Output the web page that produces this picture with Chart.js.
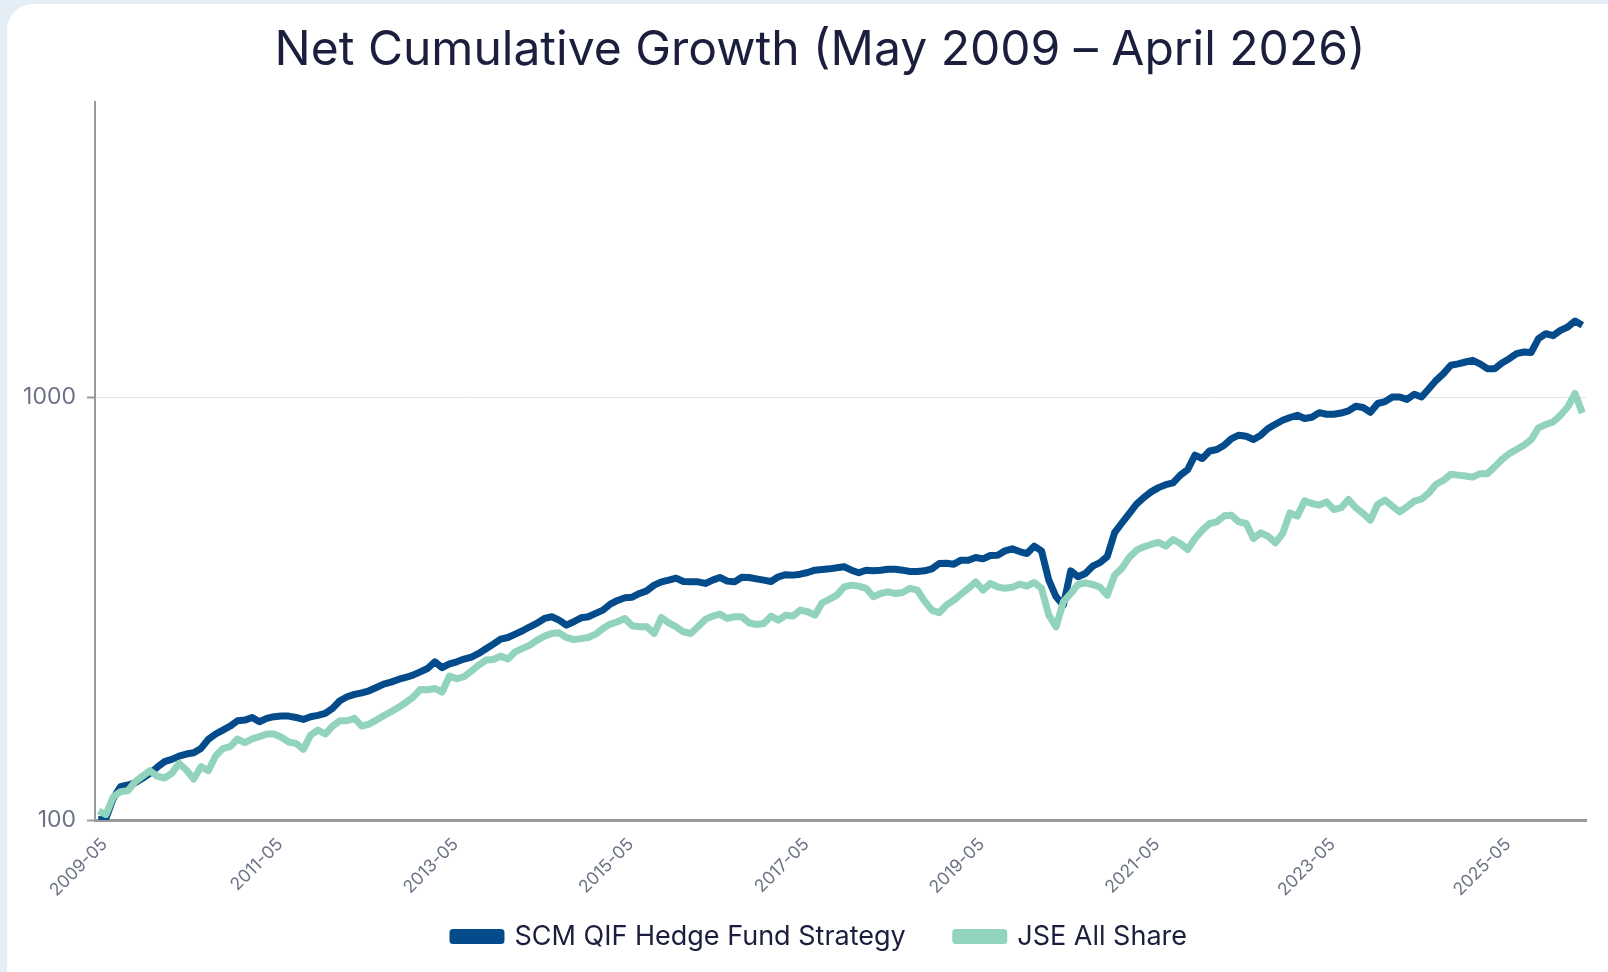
<!DOCTYPE html>
<html lang="en">
<head>
    <meta charset="UTF-8">
    <title>Net Cumulative Growth (May 2009 – April 2026)</title>
    <script src="https://cdn.jsdelivr.net/npm/chart.js"></script>
    <style>
        html, body {
            margin: 0;
            padding: 0;
            width: 1608px;
            height: 972px;
            overflow: hidden;
            background-color: #e4eef7;
            font-family: Inter, sans-serif;
        }
        #card {
            position: absolute;
            left: 7px;
            top: 4px;
            width: 1660px;
            height: 1020px;
            background-color: #ffffff;
            border-radius: 26px;
        }
        #chartBox {
            position: absolute;
            left: 0;
            top: 0;
            width: 1608px;
            height: 960px;
        }
    </style>
</head>
<body>
<div id="card"></div>
<div id="chartBox">
    <canvas id="growthChart"></canvas>
</div>
<script>
    // monthly index values, May 2009 .. April 2026 (204 months)
    const scmFund = [
        100, 101, 112.5, 119.9, 121, 122.5, 125.5, 128.9, 133.2, 137.4, 139.1, 141.6,
        143.2, 144.2, 147.7, 155.1, 159.7, 163.2, 166.8, 171.7, 172.3, 174.8, 170.8, 173.9,
        175.5, 176.1, 176.1, 174.8, 172.9, 175.5, 176.8, 178.7, 183.6, 191.4, 195.6, 198.2,
        199.9, 202.1, 205.8, 209.6, 211.9, 215, 217.3, 220.1, 224.1, 228.2, 236.7, 229.2,
        234, 236.7, 240.2, 242.8, 247.7, 254, 260.6, 267.8, 270.2, 275.1, 280.2, 286.4,
        292.1, 299.7, 302.4, 296.9, 289, 294.3, 300.7, 302.4, 308, 313.6, 324, 330.5,
        335.3, 336.5, 343.3, 348.3, 359.3, 365.8, 369.2, 373.2, 366.5, 365.8, 365.8, 362.6,
        369.2, 374.6, 367.2, 365.8, 375.2, 374.6, 371.8, 369.2, 366.5, 376, 380.4, 379.4,
        381.4, 384.9, 389.8, 391.2, 392.6, 394.8, 397, 389.8, 384.2, 389.8, 388.4, 389.8,
        391.9, 391.9, 389.8, 387, 387, 388.4, 392.6, 404.2, 404.9, 402.7, 411.6, 411.6,
        417.6, 414.6, 422.2, 422.9, 433, 437.8, 431.5, 426.8, 444.2, 433, 369.2, 337.2,
        322.2, 388.4, 376, 382.8, 398.4, 406, 420, 478, 504, 530.6, 558.3, 579,
        597, 611, 621, 627, 654, 674, 729, 716, 746, 752, 770, 798,
        813, 808, 794, 813, 843, 863, 882, 895, 906, 890, 896, 919,
        911, 911, 917, 928, 952, 945, 921, 966, 976, 1001, 1001, 988,
        1016, 1001, 1047, 1096, 1137, 1190, 1199, 1211, 1222, 1199, 1168, 1168,
        1205, 1233, 1268, 1279, 1276, 1375, 1413, 1398, 1439, 1465, 1514, 1479
    ];
    const jseAllShare = [
        105, 103, 113.5, 116.7, 117.3, 123.2, 127, 130.8, 127, 125.7, 128.9, 136.1,
        131.3, 125, 133.7, 130.8, 141.7, 147.5, 149.1, 155.4, 152.3, 155.6, 157.4, 159.7,
        159.7, 156.9, 152.9, 151.8, 146.9, 158.8, 163.2, 159.7, 166.8, 171.7, 171.7, 173.9,
        166.8, 168.6, 172.3, 176.4, 180.3, 184.6, 189.4, 194.9, 203.6, 203.2, 204.7, 200.7,
        219, 215.8, 218.2, 225, 232.4, 238.9, 239.7, 244.1, 240.3, 249.9, 254.6, 259.2,
        266.3, 272.2, 276.1, 277.1, 270.2, 267, 268.5, 270.2, 275.1, 283.8, 290.6, 294.3,
        299.7, 288, 286.4, 286.4, 276.1, 301.3, 292.6, 286.4, 278.7, 276.1, 286.4, 298.1,
        303.5, 306.8, 299.7, 302.4, 302.4, 292.6, 290, 291.5, 303.5, 297, 305, 303.5,
        313.6, 310.8, 305.1, 326.3, 332.9, 340.3, 356, 359.3, 357.3, 353.1, 337.2, 343.3,
        346.5, 343.3, 345.2, 353.1, 349.8, 329.3, 313.6, 309.1, 322.2, 331, 342.1, 353.1,
        365.8, 349.8, 362.6, 356, 353.1, 355, 361.3, 357.3, 364.5, 353.1, 305.1, 286.4,
        328.1, 343.3, 360.6, 363.9, 360.6, 355.5, 340, 379, 394, 417.6, 434.6, 442.7,
        448.3, 453.2, 444.3, 460.6, 450.8, 436.2, 463.1, 484.6, 502.6, 507.2, 524, 525.6,
        507.2, 502.6, 463.1, 477.6, 469, 452.4, 475.9, 532.6, 523.2, 568.5, 560.3, 555.3,
        565.5, 542.3, 548, 572.6, 548, 530.6, 511.7, 558.3, 570.8, 552.5, 535.5, 550.5,
        567.6, 573.6, 593.8, 622.4, 636, 657.2, 654.1, 651, 646.9, 659.3, 659.3, 684,
        711.8, 735.2, 752, 770, 794, 846, 861.6, 874, 906, 948, 1020, 917
    ];
    const seriesNames = ['SCM QIF Hedge Fund Strategy', 'JSE All Share'];
    const seriesColors = ['#034b8b', '#91d3bc'];
    const xTickLabels = ['2009-05', '2011-05', '2013-05', '2015-05', '2017-05', '2019-05', '2021-05', '2023-05', '2025-05'];
    const yTickValues = [100, 1000];

    // month labels yyyy-mm starting May 2009
    let months = [];
    for (let i = 0; i < scmFund.length; i++) {
        let m = 4 + i;
        let year = 2009 + Math.floor(m / 12);
        let month = (m % 12) + 1;
        months.push(year + '-' + String(month).padStart(2, '0'));
    }

    // axes are given fixed sizes below; let their labels spill outside the boxes
    const labelRoom = {
        id: 'labelRoom',
        afterLayout: function(chart) {
            chart.scales.y.left = 0;
            chart.scales.x.bottom = chart.height;
        }
    };

    Chart.defaults.font.family = 'Inter, sans-serif';

    let ctx = document.getElementById('growthChart').getContext('2d');
    let growthChart = new Chart(ctx, {
        type: 'line',
        data: {
            labels: months,
            datasets: [
                {
                    label: seriesNames[0],
                    data: scmFund,
                    borderColor: seriesColors[0],
                    backgroundColor: seriesColors[0],
                    borderWidth: 7,
                    pointRadius: 0,
                    tension: 0,
                    borderJoinStyle: 'round',
                    order: 1
                },
                {
                    label: seriesNames[1],
                    data: jseAllShare,
                    borderColor: seriesColors[1],
                    backgroundColor: seriesColors[1],
                    borderWidth: 7,
                    pointRadius: 0,
                    tension: 0,
                    borderJoinStyle: 'round',
                    order: 0
                }
            ]
        },
        plugins: [labelRoom],
        options: {
            responsive: true,
            maintainAspectRatio: false,
            animation: false,
            layout: {
                padding: { left: 32, right: 0, top: 22, bottom: 0 }
            },
            plugins: {
                title: {
                    display: true,
                    text: 'Net Cumulative Growth (May 2009 – April 2026)',
                    color: '#1b1e3d',
                    font: { size: 48, weight: 'normal' },
                    padding: { top: 0, bottom: 22 }
                },
                legend: {
                    position: 'bottom',
                    reverse: true,
                    labels: {
                        color: '#1b1e3d',
                        boxWidth: 48,
                        boxHeight: 8,
                        padding: 50,
                        font: { size: 27 }
                    }
                },
                tooltip: { enabled: false }
            },
            scales: {
                x: {
                    offset: true,
                    grid: { display: false },
                    border: { color: '#9a9a9a', width: 3 },
                    afterBuildTicks: function(scale) {
                        scale.ticks = scale.ticks.filter(t => xTickLabels.includes(months[t.value]));
                    },
                    afterFit: function(scale) {
                        scale.height = 53;
                    },
                    ticks: {
                        autoSkip: false,
                        maxRotation: 45,
                        minRotation: 45,
                        padding: 6,
                        labelOffset: 6,
                        color: '#6b7384',
                        font: { size: 17.5 },
                        callback: function(value) {
                            return months[value];
                        }
                    }
                },
                y: {
                    type: 'logarithmic',
                    min: 100,
                    max: 5000,
                    border: { color: '#9a9a9a', width: 2 },
                    grid: {
                        color: '#e4e4e4',
                        tickColor: '#9a9a9a',
                        tickLength: 8,
                        tickWidth: 2
                    },
                    afterBuildTicks: function(scale) {
                        scale.ticks = yTickValues.map(v => ({ value: v }));
                    },
                    afterFit: function(scale) {
                        scale.width = 63;
                    },
                    ticks: {
                        padding: 11,
                        color: '#6b7384',
                        font: { size: 23 },
                        callback: function(value) {
                            return String(value);
                        }
                    }
                },
                // empty right-hand strip, keeps the plot off the card edge
                rightGap: {
                    type: 'linear',
                    position: 'right',
                    grid: { display: false },
                    border: { display: false },
                    ticks: { display: false },
                    afterFit: function(scale) {
                        scale.width = 22;
                    }
                }
            }
        }
    });
</script>
</body>
</html>
